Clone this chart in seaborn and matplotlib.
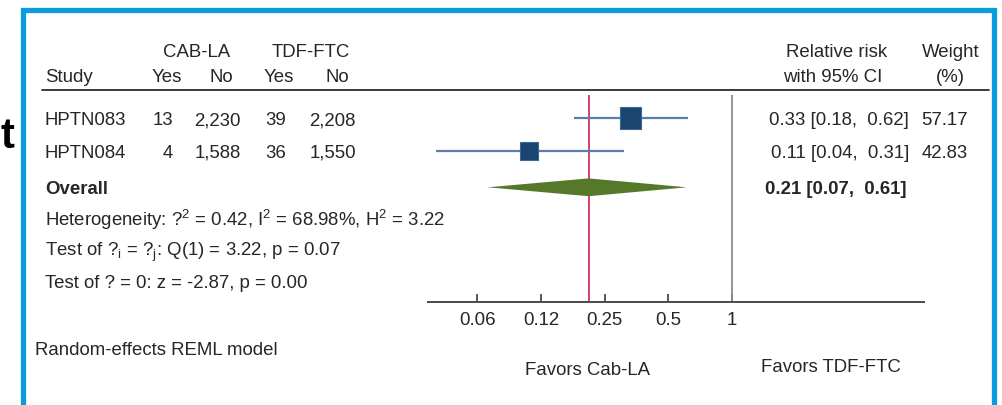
import numpy as np
import pandas as pd
import matplotlib
matplotlib.use("Agg")
import matplotlib.pyplot as plt
from matplotlib.ticker import NullLocator
import seaborn as sns

# ---- data -------------------------------------------------------------
studies = ["HPTN083", "HPTN084"]
cab_yes = [13, 4]
cab_no = [2230, 1588]
tdf_yes = [39, 36]
tdf_no = [2208, 1550]
rel_risk = [0.33, 0.11]
ci_low = [0.18, 0.04]
ci_high = [0.62, 0.31]
weights = [57.17, 42.83]

overall_rr = 0.21
overall_low = 0.07
overall_high = 0.61

tau2 = 0.42
i2 = 68.98
h2 = 3.22
q_stat = 3.22
q_df = 1
q_p = 0.07
z_stat = -2.87
z_p = 0.00

tick_values = [0.0625, 0.125, 0.25, 0.5, 1]
tick_labels = ["0.06", "0.12", "0.25", "0.5", "1"]

# ---- style ------------------------------------------------------------
sns.set_theme(style="white")
plt.rcParams["font.family"] = ["Liberation Sans", "DejaVu Sans"]
plt.rcParams["mathtext.fontset"] = "custom"
plt.rcParams["mathtext.rm"] = "Liberation Sans"
plt.rcParams["mathtext.it"] = "Liberation Sans:italic"

TXT = "#262626"
FS = 13.4
W, H = 1002, 405

fig = plt.figure(figsize=(W / 100, H / 100), dpi=100)
fig.patch.set_facecolor("white")

# full-figure canvas in pixel units for the table text and frame
canvas = fig.add_axes([0, 0, 1, 1])
canvas.set_xlim(0, W)
canvas.set_ylim(H, 0)
canvas.axis("off")

# row layout (pixels)
row_top = 118
row_unit = 33
study_rows = [0, 1]
overall_row = 2.1


def row_px(r):
    return row_top + row_unit * r


# ---- forest panel -----------------------------------------------------
ax_left, ax_right, ax_top, ax_bottom = 428, 924, 95, 302
ax = fig.add_axes([ax_left / W, 1 - ax_bottom / H,
                   (ax_right - ax_left) / W, (ax_bottom - ax_top) / H])
ax.patch.set_alpha(0)
ax.set_xscale("log")
ax.set_xlim(0.0366, 8.05)
ax.set_ylim((ax_bottom - row_top) / row_unit, (ax_top - row_top) / row_unit)

df = pd.DataFrame({"study": studies, "rr": rel_risk, "lo": ci_low,
                   "hi": ci_high, "weight": weights, "row": study_rows})

ax.axvline(1, color="#8c8c8c", lw=1.3, zorder=1)
ax.axvline(overall_rr, color="#d2335c", lw=1.3, zorder=1)

ax.hlines(df["row"], df["lo"], df["hi"], color="#5b7fa8", lw=1.6, zorder=2)

k = 4.0  # marker area per weight percent
sns.scatterplot(data=df, x="rr", y="row", size="weight",
                sizes=(k * df["weight"].min(), k * df["weight"].max()),
                marker="s", color="#1b4571", edgecolor="#3d6894",
                linewidth=0.8, legend=False, ax=ax, zorder=3)

half_h = 0.27
ax.fill([overall_low, overall_rr, overall_high, overall_rr],
        [overall_row, overall_row - half_h, overall_row, overall_row + half_h],
        color="#56782b", lw=0, zorder=3)

for side in ["left", "right", "top"]:
    ax.spines[side].set_visible(False)
ax.spines["bottom"].set_color("#4a4a4a")
ax.spines["bottom"].set_linewidth(1.4)
ax.set_xticks(tick_values)
ax.set_xticklabels(tick_labels)
ax.xaxis.set_minor_locator(NullLocator())
ax.set_yticks([])
ax.set_xlabel("")
ax.set_ylabel("")
ax.tick_params(axis="x", direction="in", length=6, width=1.3,
               color="#4a4a4a", pad=7, labelsize=FS, labelcolor=TXT,
               bottom=True)

# ---- table text -------------------------------------------------------
def put(x, y, s, ha="left", **kw):
    canvas.text(x, y, s, ha=ha, va="baseline", fontsize=FS, color=TXT, **kw)


# header
put(197, 57, "CAB-LA", ha="center")
put(311, 57, "TDF-FTC", ha="center")
put(45, 82, "Study")
for cx, s in zip([167, 221, 279, 337], ["Yes", "No", "Yes", "No"]):
    put(cx, 82, s, ha="center")
put(837, 57, "Relative risk", ha="center")
put(833, 82, "with 95% CI", ha="center")
put(951, 57, "Weight", ha="center")
put(950, 82, "(%)", ha="center")
canvas.plot([42, 989], [90, 90], color="#2b2b2b", lw=1.3)

# study rows
num_cols = [173, 241, 286, 356]
for i, r in enumerate(study_rows):
    yb = row_px(r) + 7
    put(45, yb, studies[i])
    for xr, v in zip(num_cols, [cab_yes[i], cab_no[i], tdf_yes[i], tdf_no[i]]):
        put(xr, yb, f"{v:,}", ha="right")
    put(909, yb, f"{rel_risk[i]:.2f} [{ci_low[i]:.2f},  {ci_high[i]:.2f}]",
        ha="right")
    put(968, yb, f"{weights[i]:.2f}", ha="right")

# overall row
yb = row_px(overall_row) + 7
put(45, yb, "Overall", fontweight="bold")
put(907, yb, f"{overall_rr:.2f} [{overall_low:.2f},  {overall_high:.2f}]",
    ha="right", fontweight="bold")

# heterogeneity and tests
put(45, 226, f"Heterogeneity: ?$^\\mathregular{{2}}$ = {tau2:.2f}, "
             f"I$^\\mathregular{{2}}$ = {i2:.2f}%, H$^\\mathregular{{2}}$ = {h2:.2f}")
put(45, 256, f"Test of ?$_\\mathregular{{i}}$ = ?$_\\mathregular{{j}}$: "
             f"Q({q_df}) = {q_stat:.2f}, p = {q_p:.2f}")
put(45, 288, f"Test of ? = 0: z = {z_stat:.2f}, p = {z_p:.2f}")
put(35, 355, "Random-effects REML model")

put(588, 375, "Favors Cab-LA", ha="center")
put(831, 372, "Favors TDF-FTC", ha="center")

# slide frame and the heading letter beside it
frame_c = "#0b9ddb"
canvas.plot([23.5, 23.5, 994, 994], [H + 5, 9.5, 9.5, H + 5],
            color=frame_c, lw=3.8, solid_joinstyle="miter", zorder=5)
canvas.text(0.5, 148, "t", ha="left", va="baseline", fontsize=30,
            fontweight="bold", color="black")

fig.savefig("out.png", dpi=100)
